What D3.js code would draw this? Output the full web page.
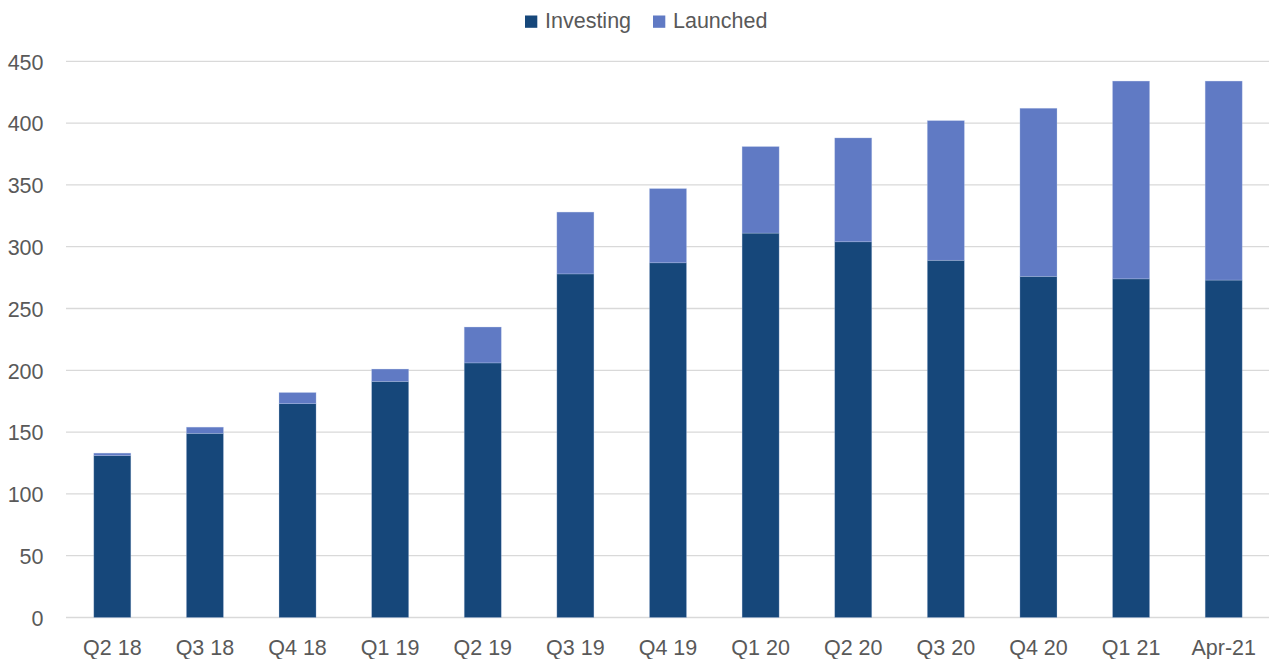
<!DOCTYPE html>
<html>
<head>
<meta charset="utf-8">
<script src="https://cdn.jsdelivr.net/npm/d3@7"></script>
<style>
  html, body { margin: 0; padding: 0; background: #ffffff; }
  svg { display: block; }
  text { font-family: "Liberation Sans", Arial, sans-serif; fill: #595959; }
</style>
</head>
<body>
<script>
const categories = ["Q2 18","Q3 18","Q4 18","Q1 19","Q2 19","Q3 19","Q4 19","Q1 20","Q2 20","Q3 20","Q4 20","Q1 21","Apr-21"];
const investing = [131, 149, 173, 191, 206, 278, 287, 311, 304, 289, 276, 274, 273];
const launched  = [2, 5, 9, 10, 29, 50, 60, 70, 84, 113, 136, 160, 161];
const seriesNames = ["Investing", "Launched"];
const seriesColors = ["#16477a", "#607ac4"];
const yTicks = [0, 50, 100, 150, 200, 250, 300, 350, 400, 450];

const W = 1269, H = 659;
const plot = { left: 66, right: 1270, top: 61.3, bottom: 617.5 };

const svg = d3.select("body").append("svg").attr("width", W).attr("height", H);

const x = d3.scaleBand().domain(categories)
  .range([plot.left, plot.right]).paddingInner(0.6).paddingOuter(0.3);
const y = d3.scaleLinear().domain([0, 450]).range([plot.bottom, plot.top]);

// gridlines
svg.append("g").selectAll("line").data(yTicks).join("line")
  .attr("x1", plot.left).attr("x2", plot.right)
  .attr("y1", d => y(d)).attr("y2", d => y(d))
  .attr("stroke", "#d9d9d9").attr("stroke-width", 1.3);

// y axis labels
const yAxis = d3.axisLeft(y).tickValues(yTicks).tickSize(0).tickPadding(0);
const gy = svg.append("g").attr("transform", `translate(43.5,0)`).call(yAxis);
gy.select(".domain").remove();
gy.selectAll("text").attr("font-size", 21.5).style("font-family", "Liberation Sans, Arial, sans-serif").attr("fill", "#595959").attr("dy", "0.36em");

// stacked data
const rows = categories.map((c, i) => ({ cat: c, Investing: investing[i], Launched: launched[i] }));
const stack = d3.stack().keys(seriesNames)(rows);

svg.append("g").selectAll("g").data(stack).join("g")
  .attr("fill", (d, i) => seriesColors[i])
  .selectAll("rect").data(d => d).join("rect")
  .attr("x", d => x(d.data.cat))
  .attr("width", x.bandwidth())
  .attr("y", d => y(d[1]))
  .attr("height", d => y(d[0]) - y(d[1]))
  .attr("stroke", "rgba(190,205,235,0.4)").attr("stroke-width", 0.7);

// x axis labels
const xAxis = d3.axisBottom(x).tickSize(0).tickPadding(0);
const gx = svg.append("g").attr("transform", `translate(0,${plot.bottom})`).call(xAxis);
gx.select(".domain").remove();
gx.selectAll("text").attr("font-size", 21.5).style("font-family", "Liberation Sans, Arial, sans-serif").attr("fill", "#595959").attr("dy", "1.75em");

// legend
const legendPos = [{ sx: 525, tx: 545 }, { sx: 653, tx: 673 }];
const lg = svg.append("g");
seriesNames.forEach((name, i) => {
  lg.append("rect").attr("x", legendPos[i].sx).attr("y", 15.5).attr("width", 12.3).attr("height", 12.3)
    .attr("fill", seriesColors[i]);
  lg.append("text").attr("x", legendPos[i].tx).attr("y", 20.5).attr("dy", "0.36em")
    .attr("font-size", 21.5).text(name);
});
</script>
</body>
</html>
